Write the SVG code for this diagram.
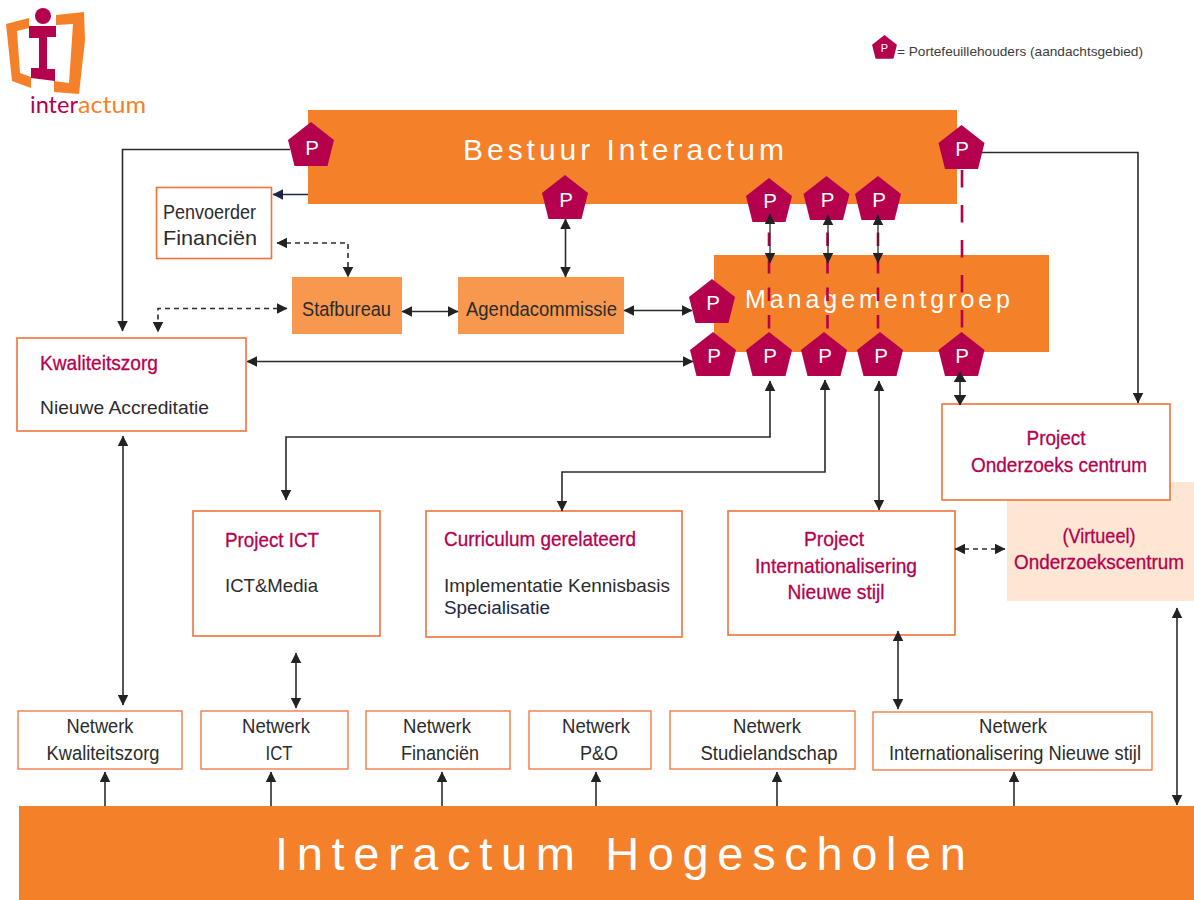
<svg xmlns="http://www.w3.org/2000/svg" width="1194" height="900" viewBox="0 0 1194 900">
<style>
text{font-family:"Liberation Sans",Arial,sans-serif}
.or{fill:#f4812a}.lo{fill:#f7984e}
.box{fill:#fff;stroke:#f2723a;stroke-width:1.6}
.thin{stroke-width:1.3}
.l{font-size:20.500px;fill:#2b2b2b}
.m{font-size:21px;fill:#b5004e;stroke:#b5004e;stroke-width:.3}
.c{text-anchor:middle}
.p{font-size:20.500px;fill:#fff;text-anchor:middle}
.w{fill:#fff}
.cn{fill:none;stroke:#2b2b2b;stroke-width:1.6}
.da{stroke-dasharray:5 4}
.pk{fill:none;stroke:#b5004e;stroke-width:2.600;stroke-dasharray:13.500 14}
.pk2{fill:none;stroke:#b5004e;stroke-width:2.600;stroke-dasharray:17.500 17.500}
</style>
<defs>
<polygon id="pent" points="0,0 23,18 16.500,44 -16.500,44 -23,18" fill="#b5004e"/>
<marker id="a" viewBox="0 0 10 10" refX="9.500" refY="5" markerUnits="userSpaceOnUse" markerWidth="11" markerHeight="11" orient="auto-start-reverse"><path d="M0,0L10,5L0,10Z" fill="#222"/></marker>
<marker id="b" viewBox="0 0 10 12" refX="9.500" refY="6" markerUnits="userSpaceOnUse" markerWidth="11" markerHeight="13" orient="auto-start-reverse"><path d="M0,0L10,6L0,12Z" fill="#222"/></marker>
<marker id="n" viewBox="0 0 10 10" refX="9.500" refY="5" markerUnits="userSpaceOnUse" markerWidth="11" markerHeight="11" orient="auto-start-reverse"><path d="M0,0L10,5L0,10Z" fill="#1c2748"/></marker>
</defs>

<g id="logo">
<path d="M6,24 L29,18 L29,28 L17,31 L20,73 L31,77 L31,88 L12,81 Z" fill="#f4812a"/>
<path d="M56,15 L84,12 L85,40 L79,94 L54,92 L54,81 L69,83 L73,24 L56,25 Z" fill="#f4812a"/>
<circle cx="43" cy="16" r="8" fill="#b5004e"/>
<path d="M29,26 H56 V37 H47 V69 H55 V81 L31,78 V68 H39 V38 H29 Z" fill="#b5004e"/>
<text x="30" y="113" font-size="23" fill="#b5004e" style="font-family:Lato,sans-serif" textLength="48" lengthAdjust="spacingAndGlyphs">inter</text>
<text x="78" y="113" font-size="23" fill="#f4812a" style="font-family:Lato,sans-serif" textLength="68" lengthAdjust="spacingAndGlyphs">actum</text>
</g>

<g id="legend">
<use href="#pent" transform="translate(884.500,35) scale(.54)"/>
<text x="884.500" y="52" font-size="11" class="p" style="font-size:11px">P</text>
<text x="897" y="56" font-size="13" fill="#3c3c3c" textLength="246" lengthAdjust="spacingAndGlyphs">= Portefeuillehouders (aandachtsgebied)</text>
</g>

<g id="bestuur"><rect class="or" x="308" y="110" width="649" height="94"/>
<text x="463" y="160" font-size="30" class="w" textLength="321" lengthAdjust="spacing">Bestuur Interactum</text></g>

<g id="managementgroep"><rect class="or" x="714" y="255" width="335" height="97"/>
<text x="745" y="308" font-size="25" class="w" textLength="265" lengthAdjust="spacing">Managementgroep</text></g>

<g id="hogescholen"><rect class="or" x="19" y="806" width="1175" height="94"/>
<text x="275" y="870" font-size="47" class="w" textLength="691" lengthAdjust="spacing">Interactum Hogescholen</text></g>

<g id="penvoerder"><rect class="box" x="156.500" y="187.500" width="115" height="71"/>
<text class="l" x="163" y="219" textLength="93" lengthAdjust="spacingAndGlyphs">Penvoerder</text>
<text x="163" y="245" font-size="21" fill="#2b2b2b" textLength="94" lengthAdjust="spacingAndGlyphs">Financiën</text></g>

<g id="stafbureau"><rect class="lo" x="292" y="277" width="110" height="57"/>
<text class="l" x="302" y="316" textLength="89" lengthAdjust="spacingAndGlyphs">Stafbureau</text></g>

<g id="agendacommissie"><rect class="lo" x="458" y="277" width="166" height="57"/>
<text class="l" x="466" y="316" textLength="151" lengthAdjust="spacingAndGlyphs">Agendacommissie</text></g>

<g id="kwaliteitszorg"><rect class="box" x="17" y="338" width="229" height="93"/>
<text class="m" x="40" y="370" textLength="118" lengthAdjust="spacingAndGlyphs">Kwaliteitszorg</text>
<text class="l" x="40" y="414" style="font-size:19px" textLength="169" lengthAdjust="spacingAndGlyphs">Nieuwe Accreditatie</text></g>

<g id="onderzoekscentrum-virtueel"><rect fill="#fde6d3" x="1007" y="482" width="187" height="119"/>
<text class="m c" x="1099" y="543" textLength="73" lengthAdjust="spacingAndGlyphs">(Virtueel)</text>
<text class="m c" x="1099" y="569" style="font-size:19.500px" textLength="170" lengthAdjust="spacingAndGlyphs">Onderzoekscentrum</text></g>

<g id="project-onderzoek"><rect class="box" x="942" y="404" width="228" height="96"/>
<text class="m c" x="1056" y="445" textLength="59" lengthAdjust="spacingAndGlyphs">Project</text>
<text class="m c" x="1059" y="472" textLength="176" lengthAdjust="spacingAndGlyphs">Onderzoeks centrum</text></g>

<g id="project-ict"><rect class="box" x="193" y="511" width="187" height="125"/>
<text class="m" x="225" y="547" textLength="94" lengthAdjust="spacingAndGlyphs">Project ICT</text>
<text class="l" x="225" y="592" style="font-size:19px" textLength="93" lengthAdjust="spacingAndGlyphs">ICT&amp;Media</text></g>

<g id="curriculum"><rect class="box" x="426" y="511" width="256" height="126"/>
<text class="m" x="444" y="546" textLength="192" lengthAdjust="spacingAndGlyphs">Curriculum gerelateerd</text>
<text class="l" x="444" y="592" style="font-size:19px" textLength="226" lengthAdjust="spacingAndGlyphs">Implementatie Kennisbasis</text>
<text x="444" y="614" font-size="18" fill="#1c2748" textLength="106" lengthAdjust="spacingAndGlyphs">Specialisatie</text></g>

<g id="project-internationalisering"><rect class="box" x="728" y="511" width="227" height="124"/>
<text class="m c" x="834" y="546" textLength="60" lengthAdjust="spacingAndGlyphs">Project</text>
<text class="m c" x="836" y="573" textLength="162" lengthAdjust="spacingAndGlyphs">Internationalisering</text>
<text class="m c" x="836" y="599" textLength="97" lengthAdjust="spacingAndGlyphs">Nieuwe stijl</text></g>

<g id="netwerk-kwaliteitszorg"><rect class="box thin" x="18" y="711" width="164" height="58"/>
<text class="l c" x="100" y="733" textLength="67" lengthAdjust="spacingAndGlyphs">Netwerk</text>
<text class="l c" x="103" y="760" textLength="113" lengthAdjust="spacingAndGlyphs">Kwaliteitszorg</text></g>
<g id="netwerk-ict"><rect class="box thin" x="201" y="711" width="147" height="58"/>
<text class="l c" x="276" y="733" textLength="68" lengthAdjust="spacingAndGlyphs">Netwerk</text>
<text class="l c" x="279" y="760" textLength="27" lengthAdjust="spacingAndGlyphs">ICT</text></g>
<g id="netwerk-financien"><rect class="box thin" x="366" y="711" width="144" height="58"/>
<text class="l c" x="437" y="733" textLength="68" lengthAdjust="spacingAndGlyphs">Netwerk</text>
<text class="l c" x="440" y="760" textLength="78" lengthAdjust="spacingAndGlyphs">Financiën</text></g>
<g id="netwerk-po"><rect class="box thin" x="529" y="711" width="122" height="58"/>
<text class="l c" x="596" y="733" textLength="68" lengthAdjust="spacingAndGlyphs">Netwerk</text>
<text class="l c" x="599" y="760" textLength="38" lengthAdjust="spacingAndGlyphs">P&amp;O</text></g>
<g id="netwerk-studielandschap"><rect class="box thin" x="670" y="711" width="185" height="58"/>
<text class="l c" x="767" y="733" textLength="68" lengthAdjust="spacingAndGlyphs">Netwerk</text>
<text class="l c" x="769" y="760" textLength="137" lengthAdjust="spacingAndGlyphs">Studielandschap</text></g>
<g id="netwerk-internationalisering"><rect class="box thin" x="873" y="712" width="279" height="58"/>
<text class="l c" x="1013" y="733" textLength="68" lengthAdjust="spacingAndGlyphs">Netwerk</text>
<text class="l c" x="1015" y="760" textLength="252" lengthAdjust="spacingAndGlyphs">Internationalisering Nieuwe stijl</text></g>

<g id="connectors">
<path class="pk" d="M769,232.500V332"/>
<path class="pk" d="M827.500,232.500V332"/>
<path class="pk" d="M878,232.500V332"/>
<path class="pk2" d="M962,170V332"/>
<path class="cn" marker-end="url(#a)" d="M290,149.500H122.500V331"/>
<path class="cn" marker-end="url(#a)" d="M980,152.500H1138V403"/>
<path fill="none" stroke="#1c2748" stroke-width="1.600" marker-end="url(#n)" d="M308,194.500H273"/>
<path class="cn da" marker-start="url(#a)" marker-end="url(#a)" d="M277,243H348V277"/>
<path class="cn da" marker-start="url(#a)" marker-end="url(#a)" d="M287,308.500H158V332"/>
<path class="cn" marker-start="url(#a)" marker-end="url(#a)" d="M402,311.500H458"/>
<path class="cn" marker-start="url(#a)" marker-end="url(#a)" d="M565.500,219V277"/>
<path class="cn" marker-start="url(#a)" marker-end="url(#a)" d="M624,310.500H692"/>
<path class="cn" marker-start="url(#a)" marker-end="url(#a)" d="M247,361.500H693"/>
<path class="cn" marker-start="url(#a)" marker-end="url(#a)" d="M770,381V437H286V500"/>
<path class="cn" marker-start="url(#a)" marker-end="url(#a)" d="M825,380V472H562V511"/>
<path class="cn" marker-start="url(#a)" marker-end="url(#a)" d="M879,381V510"/>
<path class="cn da" marker-start="url(#a)" marker-end="url(#a)" d="M955,549H1005"/>
<path class="cn" marker-start="url(#a)" marker-end="url(#a)" d="M123,436V705"/>
<path class="cn" marker-start="url(#a)" marker-end="url(#a)" d="M296,653V708"/>
<path class="cn" marker-start="url(#a)" marker-end="url(#a)" d="M898,631V709"/>
<path class="cn" marker-start="url(#a)" marker-end="url(#a)" d="M1177,608V805"/>
<path class="cn" marker-end="url(#a)" d="M105,806V772"/>
<path class="cn" marker-end="url(#a)" d="M271,806V772"/>
<path class="cn" marker-end="url(#a)" d="M442,806V772"/>
<path class="cn" marker-end="url(#a)" d="M596,806V772"/>
<path class="cn" marker-end="url(#a)" d="M777,806V772"/>
<path class="cn" marker-end="url(#a)" d="M1014,806V772"/>
</g>

<g id="p-bestuur-1"><use href="#pent" x="311" y="122"/><text class="p" x="312" y="155">P</text></g>
<g id="p-bestuur-2"><use href="#pent" x="565" y="175"/><text class="p" x="566" y="207">P</text></g>
<g id="p-bestuur-3"><use href="#pent" x="769" y="178"/><text class="p" x="770" y="208">P</text></g>
<g id="p-bestuur-4"><use href="#pent" x="826.500" y="176"/><text class="p" x="827.500" y="207">P</text></g>
<g id="p-bestuur-5"><use href="#pent" x="878" y="176"/><text class="p" x="879" y="207">P</text></g>
<g id="p-bestuur-6"><use href="#pent" x="961.500" y="125"/><text class="p" x="962" y="156">P</text></g>
<g id="p-mg-left"><use href="#pent" x="712" y="279"/><text class="p" x="713" y="310">P</text></g>
<g id="p-mg-1"><use href="#pent" x="713" y="332"/><text class="p" x="714" y="363">P</text></g>
<g id="p-mg-2"><use href="#pent" x="769" y="332"/><text class="p" x="770" y="363">P</text></g>
<g id="p-mg-3"><use href="#pent" x="824" y="332"/><text class="p" x="825" y="363">P</text></g>
<g id="p-mg-4"><use href="#pent" x="880" y="332"/><text class="p" x="881" y="363">P</text></g>
<g id="p-mg-5"><use href="#pent" x="961.500" y="332"/><text class="p" x="962" y="363">P</text></g>
<g id="connectors-over-p">
<path class="cn" style="stroke-width:1.300" marker-start="url(#a)" marker-end="url(#a)" d="M770,214V263"/>
<path class="cn" style="stroke-width:1.300" marker-start="url(#a)" marker-end="url(#a)" d="M828,215V263"/>
<path class="cn" style="stroke-width:1.300" marker-start="url(#a)" marker-end="url(#a)" d="M878,215V263"/>
<path class="cn" marker-start="url(#b)" marker-end="url(#b)" d="M960,372V405"/>
</g>
</svg>
